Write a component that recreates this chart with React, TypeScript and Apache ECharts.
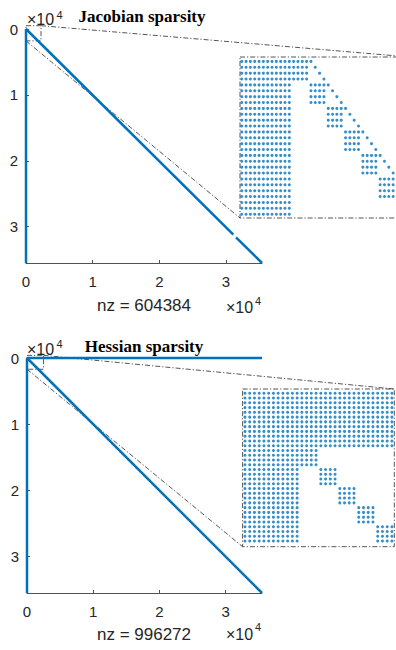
import React, { useEffect, useRef } from 'react';
import * as echarts from 'echarts';

const BLUE = '#0072BD';
const INK = '#262626';
const SANS = 'Liberation Sans, Arial, sans-serif';
const SERIF = 'Liberation Serif, Times New Roman, serif';

// ---- main spy plots (axis units: x10^4) ----
const axisTicks = [0, 1, 2, 3];
const jacobianExtent = { xMax: 3.54, yMax: 3.55 };
const hessianExtent = { xMax: 3.55, yMax: 3.55 };
const jacobianDenseColumn: any[] = [[0, 0], [0, 3.55]];
const jacobianDiagonal: any[] = [[0, 0], [3.11, 3.12], [3.125, '-'], [3.15, 3.16], [3.54, 3.55]];
const hessianDenseRow: any[] = [[0, 0], [3.55, 0]];
const hessianDenseColumn: any[] = [[0, 0], [0, 3.55]];
const hessianDiagonal: any[] = [[0, 0], [3.55, 3.55]];
const jacobianNz = 604384;
const hessianNz = 996272;

// zoom boxes drawn on main plots [x0, x1, y0, y1]
const jacobianZoomBox = [0, 0.225, -0.05, 0.18];
const hessianZoomBox = [0, 0.25, -0.04, 0.17];

// ---- insets (row / column index of the leading block) ----
const jacobianInsetRange = { x0: -0.4, x1: 38.9, y0: -0.75, y1: 26.65 };
const hessianInsetRange = { x0: -0.5, x1: 31.5, y0: -0.9, y1: 32.2 };
// [rowStart, rowEnd, colStart, colEnd]
const jacobianInsetBlocks = [
  [0, 26, 0, 11],
  [0, 3, 12, 15],
  [4, 7, 16, 19],
  [8, 11, 20, 23],
  [12, 15, 24, 27],
  [16, 19, 28, 31],
  [20, 23, 32, 35],
  [24, 26, 36, 39],
];
// [row, col]
const jacobianInsetDiagonal = [
  [0, 16], [1, 17], [2, 18], [3, 19], [4, 20], [5, 21], [6, 22], [7, 23], [8, 24],
  [9, 25], [10, 26], [11, 27], [12, 28], [13, 29], [14, 30], [15, 31], [16, 32],
  [17, 33], [18, 34], [19, 35], [20, 36], [21, 37], [22, 38], [23, 39], [24, 40],
  [25, 41], [26, 42],
];
const hessianInsetBlocks = [
  [0, 11, 0, 31],
  [12, 31, 0, 11],
  [12, 15, 12, 15],
  [16, 19, 16, 19],
  [20, 23, 20, 23],
  [24, 27, 24, 27],
  [28, 31, 28, 31],
];

function expandBlocks(blocks: number[][], singles: number[][] = []) {
  const pts: number[][] = [];
  blocks.forEach(([r0, r1, c0, c1]) => {
    for (let r = r0; r <= r1; r++) for (let c = c0; c <= c1; c++) pts.push([c, r]);
  });
  singles.forEach(([r, c]) => pts.push([c, r]));
  return pts;
}

function mainXAxis(gridIndex: number, max: number) {
  return {
    type: 'value', gridIndex, min: 0, max,
    axisLine: { show: true, onZero: false, lineStyle: { color: INK, width: 0.8 } },
    axisTick: { show: true, inside: true, length: 3, customValues: axisTicks, lineStyle: { color: INK, width: 0.8 } },
    axisLabel: { customValues: axisTicks, color: INK, fontSize: 15, fontFamily: SANS, margin: 11 },
    splitLine: { show: false },
  };
}
function mainYAxis(gridIndex: number, max: number) {
  return {
    type: 'value', gridIndex, min: 0, max, inverse: true,
    axisLine: { show: true, onZero: false, lineStyle: { color: INK, width: 0.8 } },
    axisTick: { show: true, inside: true, length: 3, customValues: axisTicks, lineStyle: { color: INK, width: 0.8 } },
    axisLabel: { customValues: axisTicks, color: INK, fontSize: 15, fontFamily: SANS, margin: 8 },
    splitLine: { show: false },
  };
}
function insetAxis(gridIndex: number, min: number, max: number, inverse = false) {
  return {
    type: 'value', gridIndex, min, max, inverse,
    axisLine: { show: false }, axisTick: { show: false }, axisLabel: { show: false }, splitLine: { show: false },
  };
}
function spyLine(idx: number, data: any[]) {
  return {
    type: 'line', xAxisIndex: idx, yAxisIndex: idx, data, showSymbol: false, clip: false,
    connectNulls: false, silent: true,
    lineStyle: { color: BLUE, width: 2.5 },
  };
}
function dots(idx: number, data: number[][]) {
  return {
    type: 'scatter', xAxisIndex: idx, yAxisIndex: idx, data, symbol: 'circle', symbolSize: 3,
    silent: true, itemStyle: { color: BLUE },
  };
}

function text(x: number, y: number, t: string, size: number, opts: any = {}) {
  return {
    type: 'text', x, y, silent: true,
    style: {
      text: t, fill: opts.fill || INK, fontSize: size, fontFamily: opts.family || SANS,
      fontWeight: opts.weight || 'normal', align: opts.align || 'left', verticalAlign: 'middle',
    },
  };
}

export default function App() {
  const ref = useRef<HTMLDivElement>(null);
  useEffect(() => {
    document.body.style.margin = '0';
    const chart = echarts.init(ref.current!, null, { renderer: 'svg' });
    chart.setOption({
      animation: false,
      backgroundColor: '#ffffff',
      grid: [
        { left: 26, top: 29, width: 236, height: 234, outerBoundsMode: 'none' },
        { left: 240, top: 57, width: 170, height: 161, outerBoundsMode: 'none' },
        { left: 27, top: 358, width: 235, height: 235, outerBoundsMode: 'none' },
        { left: 242.6, top: 389, width: 151.7, height: 157.7, outerBoundsMode: 'none' },
      ],
      xAxis: [
        mainXAxis(0, jacobianExtent.xMax),
        insetAxis(1, jacobianInsetRange.x0, jacobianInsetRange.x1),
        mainXAxis(2, hessianExtent.xMax),
        insetAxis(3, hessianInsetRange.x0, hessianInsetRange.x1),
      ],
      yAxis: [
        mainYAxis(0, jacobianExtent.yMax),
        insetAxis(1, jacobianInsetRange.y0, jacobianInsetRange.y1, true),
        mainYAxis(2, hessianExtent.yMax),
        insetAxis(3, hessianInsetRange.y0, hessianInsetRange.y1, true),
      ],
      series: [
        spyLine(0, jacobianDenseColumn),
        spyLine(0, jacobianDiagonal),
        dots(1, expandBlocks(jacobianInsetBlocks, jacobianInsetDiagonal)),
        spyLine(2, hessianDenseRow),
        spyLine(2, hessianDenseColumn),
        spyLine(2, hessianDiagonal),
        dots(3, expandBlocks(hessianInsetBlocks)),
      ],
    });

    const px = (g: number, p: number[]) => chart.convertToPixel({ gridIndex: g } as any, p) as number[];
    const dash = { stroke: '#2a2a2a', lineWidth: 0.8, lineDash: [5, 2, 1.2, 2], fill: 'none' };
    const zoomParts = (mainGrid: number, box: number[], insetGrid: number, r: any) => {
      const a = px(mainGrid, [box[0], box[2]]);
      const b = px(mainGrid, [box[1], box[3]]);
      const c = px(insetGrid, [r.x0, r.y0]);
      const d = px(insetGrid, [r.x1, r.y1]);
      return [
        { type: 'rect', silent: true, shape: { x: a[0], y: a[1], width: b[0] - a[0], height: b[1] - a[1] }, style: dash },
        { type: 'rect', silent: true, shape: { x: c[0], y: c[1], width: d[0] - c[0], height: d[1] - c[1] }, style: dash },
        { type: 'line', silent: true, shape: { x1: b[0], y1: a[1], x2: d[0], y2: c[1] }, style: dash },
        { type: 'line', silent: true, shape: { x1: a[0], y1: b[1], x2: c[0], y2: d[1] }, style: dash },
      ];
    };

    chart.setOption({
      graphic: [
        ...zoomParts(0, jacobianZoomBox, 1, jacobianInsetRange),
        ...zoomParts(2, hessianZoomBox, 3, hessianInsetRange),
        text(142, 16, 'Jacobian sparsity', 17, { family: SERIF, weight: 'bold', align: 'center', fill: '#000' }),
        text(144, 346, 'Hessian sparsity', 17, { family: SERIF, weight: 'bold', align: 'center', fill: '#000' }),
        text(27, 19.5, '×10', 16),
        text(56.5, 14.5, '4', 11),
        text(27, 349.5, '×10', 16),
        text(56.5, 344, '4', 11),
        text(144, 305.5, 'nz = ' + jacobianNz, 17, { align: 'center' }),
        text(226, 307.5, '×10', 16),
        text(255, 301, '4', 11),
        text(144, 634.5, 'nz = ' + hessianNz, 17, { align: 'center' }),
        text(226, 634.5, '×10', 16),
        text(255, 626.5, '4', 11),
      ],
    });
    return () => chart.dispose();
  }, []);
  return <div ref={ref} style={{ width: 396, height: 650 }} />;
}
